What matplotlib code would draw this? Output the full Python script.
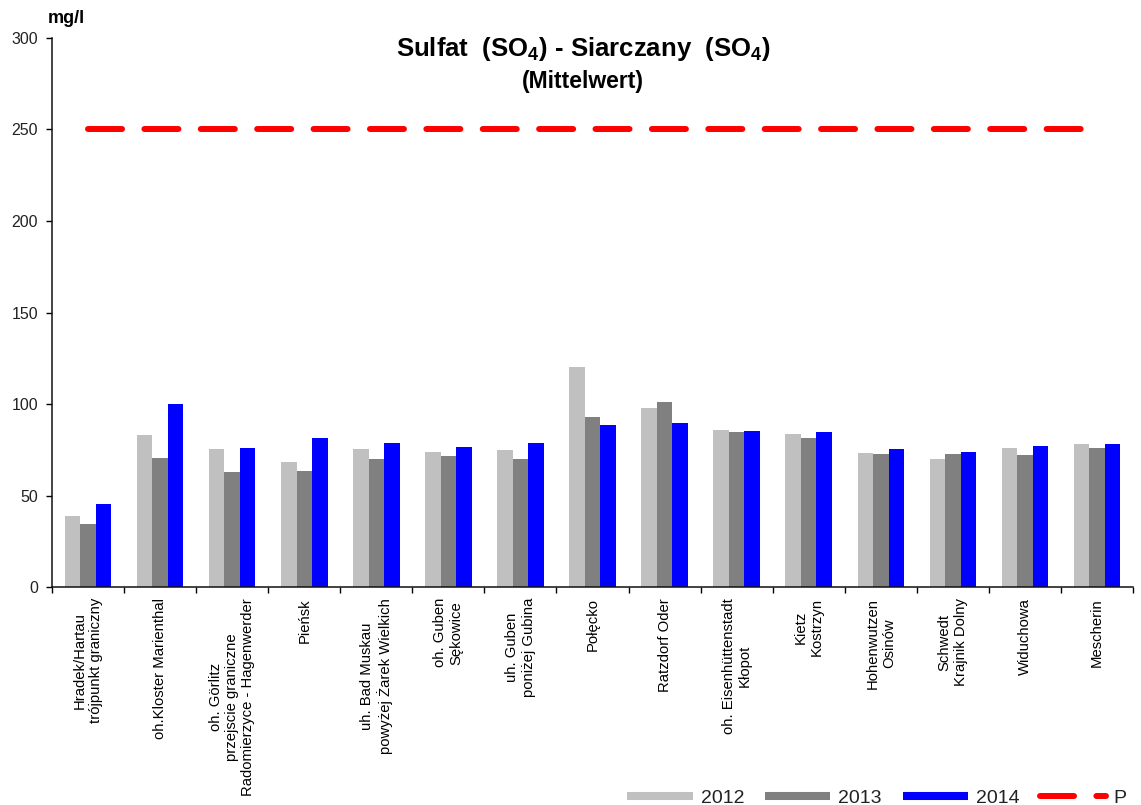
#!/usr/bin/env python3
"""Sulfat (SO4) - Siarczany (SO4), Mittelwert 2012-2014"""

import matplotlib
matplotlib.use('Agg')
import matplotlib.pyplot as plt
from matplotlib.lines import Line2D
import numpy as np

plt.rcParams['font.family'] = ['Liberation Sans', 'DejaVu Sans']
plt.rcParams['mathtext.fontset'] = 'custom'
plt.rcParams['mathtext.rm'] = 'Liberation Sans:bold'
plt.rcParams['mathtext.bf'] = 'Liberation Sans:bold'
plt.rcParams['lines.scale_dashes'] = False

# measuring stations
stations = [
    'Hradek/Hartau\ntrójpunkt graniczny',
    'oh.Kloster Marienthal',
    'oh. Görlitz\nprzejscie graniczne\nRadomierzyce - Hagenwerder',
    'Pieńsk',
    'uh. Bad Muskau\npowyżej Żarek Wielkich',
    'oh. Guben\nSękowice',
    'uh. Guben\nponiżej Gubina',
    'Połęcko',
    'Ratzdorf Oder',
    'oh. Eisenhüttenstadt\nKłopot',
    'Kietz\nKostrzyn',
    'Hohenwutzen\nOsinów',
    'Schwedt\nKrajnik Dolny',
    'Widuchowa',
    'Mescherin',
]

# mean values mg/l
vals_2012 = [38.7, 82.9, 75.4, 68.1, 75.4, 73.7, 74.6, 120.1, 97.6, 85.8, 83.6, 73.0, 69.7, 75.9, 78.1]
vals_2013 = [34.7, 70.4, 62.6, 63.2, 69.9, 71.7, 69.9, 92.7, 101.3, 84.5, 81.6, 72.5, 72.5, 71.9, 75.9]
vals_2014 = [45.6, 99.8, 75.9, 81.6, 78.7, 76.6, 78.7, 88.5, 89.4, 85.2, 84.5, 75.4, 73.9, 76.8, 78.1]
limit_value = 250

years = ['2012', '2013', '2014']
colors = ['#C0C0C0', '#808080', '#0000FF']

fig = plt.figure(figsize=(11.41, 8.05), dpi=100)
ax = fig.add_axes([0.0456, 0.2708, 0.9474, 0.682])

x = np.arange(len(stations))
w = 0.215
for i, (vals, c) in enumerate(zip([vals_2012, vals_2013, vals_2014], colors)):
    ax.bar(x + (i - 1) * w, vals, width=w, color=c, linewidth=0, zorder=2)

# limit line
ax.plot([x[0], x[-1] - 0.2], [limit_value, limit_value], color='#FF0000', lw=4.3,
        dashes=(24.5, 16.1), dash_capstyle='round', zorder=3)

ax.set_xlim(-0.5, len(stations) - 0.5)
ax.set_ylim(0, 300)
ax.set_yticks(np.arange(0, 301, 50))

# ticks at group boundaries, labels at group centres
ax.set_xticks(np.arange(-0.5, len(stations), 1.0))
ax.set_xticklabels([])
ax.set_xticks(x, minor=True)
ax.set_xticklabels(stations, minor=True, rotation=90, ha='center', va='top',
                   multialignment='center', fontsize=10.7)
ax.tick_params(axis='x', which='minor', length=0, pad=8)
ax.tick_params(axis='x', which='major', direction='out', length=4, width=1)
ax.tick_params(axis='y', direction='out', length=4, width=1, labelsize=11.5, pad=6,
               labelcolor='#222222')

for side in ['top', 'right']:
    ax.spines[side].set_visible(False)
for side in ['left', 'bottom']:
    ax.spines[side].set_linewidth(1.1)
    ax.spines[side].set_color('#111111')

fig.text(0.042, 0.966, 'mg/l', fontsize=13, fontweight='bold', ha='left', va='bottom')
fig.text(0.511, 0.93, r'Sulfat  (SO$_{4}$) - Siarczany  (SO$_{4}$)', fontsize=18.5,
         fontweight='bold', ha='center', va='baseline')
fig.text(0.511, 0.891, '(Mittelwert)', fontsize=16.5, fontweight='bold',
         ha='center', va='baseline')

# legend
handles = [Line2D([0], [0], color=c, lw=5.8, solid_capstyle='butt') for c in colors]
handles.append(Line2D([0], [0], color='#FF0000', lw=4.3, dashes=(24.5, 16.1),
                      dash_capstyle='round'))
fig.legend(handles, years + ['P'], loc='lower left', bbox_to_anchor=(0.538, -0.019),
           ncol=4, frameon=False, fontsize=14, handlelength=3.35, handletextpad=0.41,
           columnspacing=1.08, borderpad=0.2, labelcolor='#222222')

fig.savefig('out.png', dpi=100)
